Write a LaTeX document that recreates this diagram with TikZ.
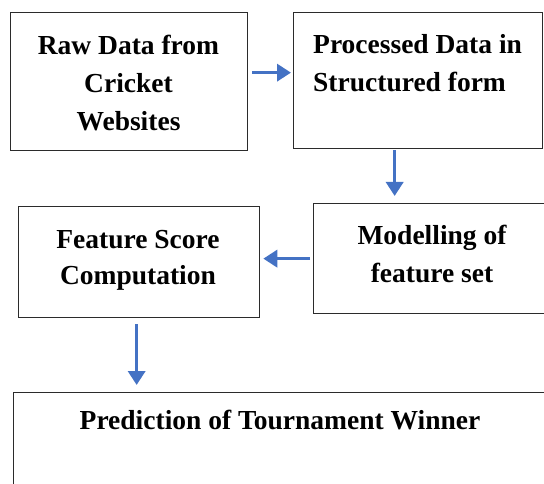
\documentclass[tikz,border=0pt]{standalone}
\usepackage{fontspec}
\setmainfont{Liberation Serif}
\usetikzlibrary{arrows.meta,calc}
\definecolor{arrblue}{HTML}{4472C4}
\definecolor{boxline}{HTML}{2B2B2B}
\begin{document}
\begin{tikzpicture}[x=1pt,y=1pt,
  box/.style={draw=boxline,line width=1.3pt,fill=white,anchor=north west,inner sep=0pt},
  txt/.style={font=\fontsize{27.5}{38}\selectfont\bfseries,align=center,inner sep=0pt},
  arr/.style={draw=arrblue,line width=3.5pt,-{Triangle[length=14pt,width=17pt]}}]
\useasboundingbox (0,0) rectangle (544,-484);
\clip (0,0) rectangle (544,-484);
\fill[white] (0,0) rectangle (544,-484);
% boxes
\node[box,minimum width=237pt,minimum height=138pt] (b1) at (10,-12) {};
\node[box,minimum width=249pt,minimum height=136pt] (b2) at (293,-12) {};
\node[box,minimum width=260pt,minimum height=110pt] (b3) at (313,-203) {};
\node[box,minimum width=241pt,minimum height=111pt] (b4) at (18,-206) {};
\node[box,minimum width=560pt,minimum height=120pt] (b5) at (13,-392) {};
% texts
\node[txt] (t1) at (128.5,-83) {Raw Data from\\Cricket\\Websites};
\node[txt,align=left,anchor=north west] (t2) at (313,-34) {Processed Data in\\Structured form};
\node[txt] (t3) at (432,-254) {Modelling of\\feature set};
\node[txt,font=\fontsize{27.5}{36}\selectfont\bfseries] (t4) at (138,-260) {Feature Score\\Computation};
\node[txt] (t5) at (280,-420) {Prediction of Tournament Winner};
% connectors
\draw[arr] ($(b1.east)+(4pt,9pt)$) -- ($(b1.east -| b2.west)+(-2pt,9pt)$);
\draw[arr] ($(b2.south)+(-23.5pt,-1pt)$) -- ($(b2.south |- b3.north)+(-23.5pt,7pt)$);
\draw[arr] ($(b3.west)+(-3pt,0pt)$) -- ($(b3.west -| b4.east)+(3pt,0pt)$);
\draw[arr] ($(b4.south)+(-2.5pt,-6pt)$) -- ($(b4.south |- b5.north)+(-2.5pt,7pt)$);
\end{tikzpicture}
\end{document}
